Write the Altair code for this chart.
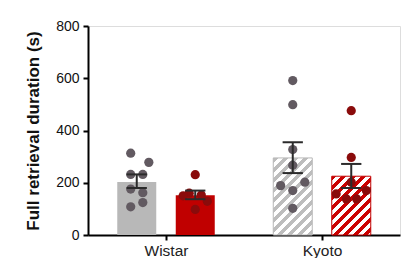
import altair as alt
import pandas as pd

# ---- data ----
groups = ["Wistar", "Kyoto"]
conditions = ["control", "treated"]

bar_group = ["Wistar", "Wistar", "Kyoto", "Kyoto"]
bar_cond = ["control", "treated", "control", "treated"]
bar_mean = [203, 152, 295, 225]
bar_lo = [180, 137, 237, 180]
bar_hi = [232, 170, 355, 272]

wc_vals = [313, 278, 232, 232, 176, 162, 108, 124]
wc_jit = [-1, 2, -1, 1, -1, 1, -1, 1]
wt_vals = [231, 160, 150, 153, 129, 98]
wt_jit = [0, -1, -2, 1, 2, 0]
kc_vals = [591, 499, 327, 267, 189, 202, 170, 102]
kc_jit = [0, 0, 0, 0, -2, 2, 0, 0]
kt_vals = [476, 297, 202, 170, 157, 138, 138]
kt_jit = [0, 0, 0, 2.5, -2.5, -0.8, 0.9]

y_ticks = [0, 200, 400, 600, 800]

# ---- styling ----
W, H = 312, 209
Y_MAX = 800
GREY_BAR = "#b8b8b8"
RED_BAR = "#c00000"
GREY_DOT = "#625a61"
RED_DOT = "#8a0b0b"
ERR = "#2b2b2b"
FONT = "Liberation Sans"

bars = pd.DataFrame({"group": bar_group, "cond": bar_cond, "mean": bar_mean,
                     "lo": bar_lo, "hi": bar_hi})
pts = pd.DataFrame({
    "group": ["Wistar"] * len(wc_vals) + ["Wistar"] * len(wt_vals)
             + ["Kyoto"] * len(kc_vals) + ["Kyoto"] * len(kt_vals),
    "cond": ["control"] * len(wc_vals) + ["treated"] * len(wt_vals)
            + ["control"] * len(kc_vals) + ["treated"] * len(kt_vals),
    "value": wc_vals + wt_vals + kc_vals + kt_vals,
    "jit": wc_jit + wt_jit + kc_jit + kt_jit,
})

pos_expr = ("(datum.group == 'Wistar' ? 2 : 6) + "
            "(datum.cond == 'control' ? -0.75 : 0.75)")

x_scale = alt.Scale(domain=[0, 8], nice=False, zero=False)
y_scale = alt.Scale(domain=[0, Y_MAX], nice=False)

x_axis = alt.Axis(values=[2, 6],
                  labelExpr="datum.value == 2 ? 'Wistar' : 'Kyoto'",
                  title=None, grid=False, domainColor="black", domainWidth=2,
                  tickColor="black", tickWidth=2, tickSize=5,
                  labelFont=FONT, labelFontSize=15.5, labelColor="#222222",
                  labelPadding=3)
y_axis = alt.Axis(values=y_ticks, title="Full retrieval duration (s)", grid=False,
                  domainColor="black", domainWidth=2, tickColor="black",
                  tickWidth=2, tickSize=5, labelFont=FONT, labelFontSize=14,
                  labelColor="#111111", labelPadding=4, titleFont=FONT,
                  titleFontSize=17, titleFontWeight="bold", titleColor="#111111",
                  titlePadding=13)

base_bar = alt.Chart(bars).transform_calculate(
    xc=pos_expr).transform_calculate(
    x0="datum.xc - 0.5", x1="datum.xc + 0.5", z="0")


def hatch(color, value):
    w = W / 8.0
    h = value * H / Y_MAX
    k = (w + h) / (w * w + h * h)
    period = 10.0 / (w + h)
    stops = []
    t = 0.0
    cur = color
    stops.append(alt.GradientStop(offset=0, color=cur))
    while t + period / 2 < 1:
        t += period / 2
        nxt = "white" if cur == color else color
        stops.append(alt.GradientStop(offset=round(t, 4), color=cur))
        stops.append(alt.GradientStop(offset=round(t, 4), color=nxt))
        cur = nxt
    stops.append(alt.GradientStop(offset=1, color=cur))
    return alt.LinearGradient(gradient="linear", stops=stops,
                              x1=0, y1=0, x2=k * w, y2=k * h)


solid = base_bar.transform_filter("datum.group == 'Wistar'").mark_rect().encode(
    x=alt.X("x0:Q", scale=x_scale, axis=x_axis),
    x2="x1:Q",
    y=alt.Y("mean:Q", scale=y_scale, axis=y_axis),
    y2="z:Q",
    color=alt.Color("cond:N", scale=alt.Scale(domain=conditions,
                                              range=[GREY_BAR, RED_BAR]),
                    legend=None),
)

hatched = []
for cond, col in zip(conditions, [GREY_BAR, RED_BAR]):
    val = bar_mean[[i for i in range(4) if bar_group[i] == "Kyoto"
                    and bar_cond[i] == cond][0]]
    hatched.append(
        base_bar.transform_filter(
            f"datum.group == 'Kyoto' && datum.cond == '{cond}'"
        ).mark_rect(fill=hatch("#bdbdbd" if cond == "control" else "#cc0000", val),
                    stroke=col, strokeWidth=1).encode(
            x=alt.X("x0:Q", scale=x_scale), x2="x1:Q",
            y=alt.Y("mean:Q", scale=y_scale), y2="z:Q")
    )

dots = alt.Chart(pts).transform_calculate(
    xp=pos_expr + " + datum.jit * 0.155"
).mark_circle(size=85, opacity=1).encode(
    x=alt.X("xp:Q", scale=x_scale),
    y=alt.Y("value:Q", scale=y_scale),
    fill=alt.Fill("cond:N", scale=alt.Scale(domain=conditions,
                                            range=[GREY_DOT, RED_DOT]),
                  legend=None),
)

err_v = base_bar.mark_rule(color=ERR, strokeWidth=2).encode(
    x=alt.X("xc:Q", scale=x_scale), y=alt.Y("lo:Q", scale=y_scale), y2="hi:Q")
cap_lo = base_bar.transform_calculate(
    c0="datum.xc - 0.26", c1="datum.xc + 0.26").mark_rule(
    color=ERR, strokeWidth=2).encode(
    x=alt.X("c0:Q", scale=x_scale), x2="c1:Q", y=alt.Y("lo:Q", scale=y_scale))
cap_hi = base_bar.transform_calculate(
    c0="datum.xc - 0.26", c1="datum.xc + 0.26").mark_rule(
    color=ERR, strokeWidth=2).encode(
    x=alt.X("c0:Q", scale=x_scale), x2="c1:Q", y=alt.Y("hi:Q", scale=y_scale))

chart = alt.layer(solid, *hatched, dots, err_v, cap_lo, cap_hi).resolve_scale(
    color="independent", fill="independent"
).properties(
    width=W, height=H,
    autosize=alt.AutoSizeParams(type="none"),
    padding={"left": 80, "top": 18, "right": 3, "bottom": 23},
).configure_view(stroke=None).configure(background="white")

chart.save("out.html", embed_options={"renderer": "svg", "actions": False})
